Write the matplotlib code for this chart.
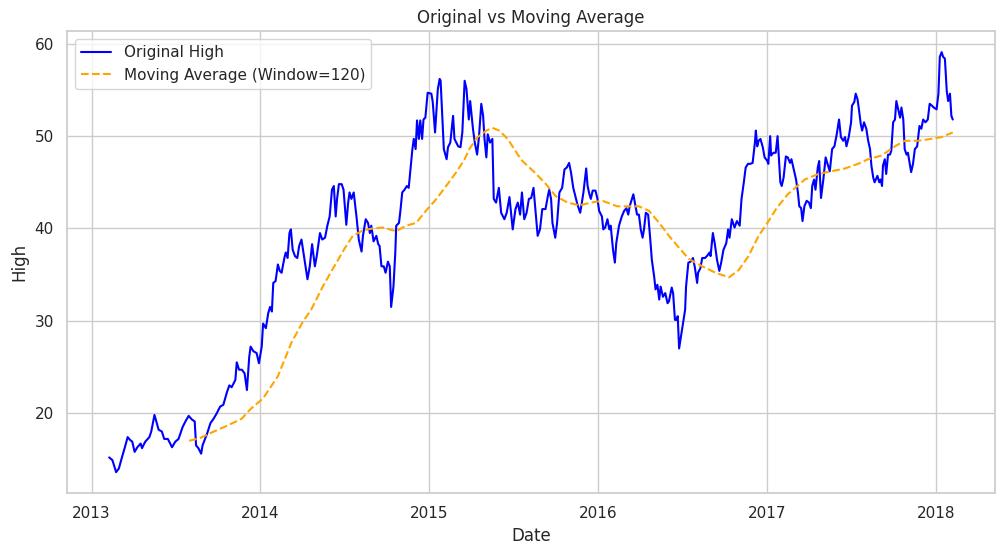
import matplotlib
matplotlib.use("Agg")
import matplotlib.pyplot as plt
import seaborn as sns
import pandas as pd

# daily High (approximate points)
high_dates = [
    "2013-02-08", "2013-02-15", "2013-02-23", "2013-03-01", "2013-03-07", "2013-03-14", "2013-03-20",
    "2013-03-25", "2013-03-30", "2013-04-04", "2013-04-10", "2013-04-17", "2013-04-20", "2013-04-27",
    "2013-05-06", "2013-05-10", "2013-05-17", "2013-05-21", "2013-05-26", "2013-06-02", "2013-06-07",
    "2013-06-15", "2013-06-24", "2013-07-01", "2013-07-08", "2013-07-17", "2013-07-23", "2013-07-30",
    "2013-08-06", "2013-08-12", "2013-08-15", "2013-08-20", "2013-08-26", "2013-08-29", "2013-09-08",
    "2013-09-15", "2013-09-22", "2013-09-29", "2013-10-06", "2013-10-13", "2013-10-21", "2013-10-26",
    "2013-10-31", "2013-11-08", "2013-11-11", "2013-11-16", "2013-11-22", "2013-11-28", "2013-12-03",
    "2013-12-08", "2013-12-11", "2013-12-17", "2013-12-24", "2013-12-29",
    "2014-01-04", "2014-01-07", "2014-01-13", "2014-01-18", "2014-01-22", "2014-01-26", "2014-01-29",
    "2014-02-03", "2014-02-08", "2014-02-12", "2014-02-16", "2014-02-22", "2014-02-25", "2014-03-01",
    "2014-03-05", "2014-03-08", "2014-03-12", "2014-03-17", "2014-03-22", "2014-03-26", "2014-03-31",
    "2014-04-04", "2014-04-09", "2014-04-13", "2014-04-18", "2014-04-23", "2014-04-29", "2014-05-03",
    "2014-05-10", "2014-05-15", "2014-05-21", "2014-05-26", "2014-05-31", "2014-06-05", "2014-06-09",
    "2014-06-13", "2014-06-16", "2014-06-20", "2014-06-26", "2014-06-30", "2014-07-06", "2014-07-10",
    "2014-07-13", "2014-07-17", "2014-07-22", "2014-07-28", "2014-08-02", "2014-08-08", "2014-08-11",
    "2014-08-17", "2014-08-22", "2014-08-26", "2014-08-29", "2014-09-03", "2014-09-09", "2014-09-13",
    "2014-09-16", "2014-09-20", "2014-09-25", "2014-09-29", "2014-10-04", "2014-10-08", "2014-10-11",
    "2014-10-16", "2014-10-20", "2014-10-22", "2014-10-28", "2014-10-31", "2014-11-04", "2014-11-09",
    "2014-11-14", "2014-11-18", "2014-11-26", "2014-11-29", "2014-12-03", "2014-12-06", "2014-12-10",
    "2014-12-13", "2014-12-17", "2014-12-20", "2014-12-24", "2014-12-29",
    "2015-01-06", "2015-01-09", "2015-01-14", "2015-01-20", "2015-01-24", "2015-01-26", "2015-01-30",
    "2015-02-02", "2015-02-08", "2015-02-11", "2015-02-16", "2015-02-22", "2015-02-25", "2015-03-05",
    "2015-03-10", "2015-03-14", "2015-03-19", "2015-03-23", "2015-03-28", "2015-03-31", "2015-04-06",
    "2015-04-10", "2015-04-15", "2015-04-19", "2015-04-24", "2015-04-28", "2015-05-01", "2015-05-05",
    "2015-05-08", "2015-05-13", "2015-05-18", "2015-05-21", "2015-05-26", "2015-06-01", "2015-06-06",
    "2015-06-13", "2015-06-18", "2015-06-24", "2015-06-30", "2015-07-01", "2015-07-07", "2015-07-12",
    "2015-07-17", "2015-07-21", "2015-07-26", "2015-07-31", "2015-08-05", "2015-08-10", "2015-08-15",
    "2015-08-19", "2015-08-24", "2015-08-29", "2015-09-03", "2015-09-10", "2015-09-15", "2015-09-18",
    "2015-09-22", "2015-09-25", "2015-10-01", "2015-10-05", "2015-10-10", "2015-10-16", "2015-10-21",
    "2015-10-26", "2015-10-31", "2015-11-04", "2015-11-09", "2015-11-15", "2015-11-18", "2015-11-24",
    "2015-11-27", "2015-12-01", "2015-12-07", "2015-12-10", "2015-12-14", "2015-12-17", "2015-12-21",
    "2015-12-27", "2015-12-31",
    "2016-01-04", "2016-01-10", "2016-01-13", "2016-01-17", "2016-01-22", "2016-01-26", "2016-01-29",
    "2016-02-03", "2016-02-07", "2016-02-10", "2016-02-16", "2016-02-22", "2016-02-27", "2016-03-03",
    "2016-03-07", "2016-03-10", "2016-03-15", "2016-03-18", "2016-03-22", "2016-03-26", "2016-03-30",
    "2016-04-03", "2016-04-07", "2016-04-10", "2016-04-14", "2016-04-19", "2016-04-23", "2016-04-27",
    "2016-05-02", "2016-05-05", "2016-05-09", "2016-05-13", "2016-05-16", "2016-05-21", "2016-05-26",
    "2016-05-31", "2016-06-03", "2016-06-09", "2016-06-12", "2016-06-16", "2016-06-19", "2016-06-22",
    "2016-06-25", "2016-06-29", "2016-07-03", "2016-07-08", "2016-07-10", "2016-07-15", "2016-07-20",
    "2016-07-25", "2016-07-29", "2016-08-03", "2016-08-05", "2016-08-10", "2016-08-14", "2016-08-20",
    "2016-08-24", "2016-08-30", "2016-09-01", "2016-09-06", "2016-09-10", "2016-09-15", "2016-09-20",
    "2016-09-24", "2016-09-29", "2016-10-05", "2016-10-09", "2016-10-12", "2016-10-17", "2016-10-23",
    "2016-10-28", "2016-11-03", "2016-11-07", "2016-11-12", "2016-11-16", "2016-11-21", "2016-11-26",
    "2016-12-01", "2016-12-06", "2016-12-08", "2016-12-11", "2016-12-14", "2016-12-18", "2016-12-23",
    "2016-12-27",
    "2017-01-02", "2017-01-04", "2017-01-08", "2017-01-10", "2017-01-15", "2017-01-20", "2017-01-24",
    "2017-01-30", "2017-02-02", "2017-02-06", "2017-02-11", "2017-02-15", "2017-02-20", "2017-02-23",
    "2017-02-27", "2017-03-05", "2017-03-09", "2017-03-12", "2017-03-16", "2017-03-19", "2017-03-23",
    "2017-03-28", "2017-04-02", "2017-04-06", "2017-04-09", "2017-04-13", "2017-04-16", "2017-04-21",
    "2017-04-24", "2017-04-28", "2017-05-03", "2017-05-08", "2017-05-12", "2017-05-17", "2017-05-22",
    "2017-05-27", "2017-06-01", "2017-06-06", "2017-06-10", "2017-06-15", "2017-06-19", "2017-06-22",
    "2017-06-27", "2017-07-02", "2017-07-04", "2017-07-09", "2017-07-12", "2017-07-16", "2017-07-19",
    "2017-07-23", "2017-07-26", "2017-07-30", "2017-08-04", "2017-08-08", "2017-08-12", "2017-08-15",
    "2017-08-19", "2017-08-22", "2017-08-28", "2017-09-01", "2017-09-04", "2017-09-07", "2017-09-09",
    "2017-09-13", "2017-09-16", "2017-09-20", "2017-09-24", "2017-09-27", "2017-10-01", "2017-10-05",
    "2017-10-08", "2017-10-12", "2017-10-16", "2017-10-19", "2017-10-23", "2017-10-26", "2017-10-30",
    "2017-11-02", "2017-11-06", "2017-11-09", "2017-11-13", "2017-11-17", "2017-11-22", "2017-11-27",
    "2017-12-01", "2017-12-05", "2017-12-10", "2017-12-15", "2017-12-19", "2017-12-24", "2017-12-28",
    "2018-01-03", "2018-01-07", "2018-01-10", "2018-01-14", "2018-01-17", "2018-01-21", "2018-01-25",
    "2018-01-28", "2018-02-01", "2018-02-04", "2018-02-07",
]
high_values = [
    15.2, 14.9, 13.6, 14.0, 15.1, 16.3, 17.4,
    17.1, 16.9, 15.8, 16.3, 16.7, 16.2, 16.9,
    17.4, 18.0, 19.8, 19.1, 18.2, 18.0, 17.2,
    17.2, 16.3, 16.9, 17.2, 18.5, 19.1, 19.7,
    19.3, 19.1, 16.5, 16.2, 15.6, 16.5, 17.8,
    18.9, 19.4, 20.0, 20.7, 20.9, 22.3, 23.0,
    22.8, 23.6, 25.5, 24.7, 24.7, 24.3, 22.5,
    26.1, 27.2, 26.7, 26.5, 25.4,
    27.2, 29.7, 29.2, 30.8, 31.5, 31.0, 34.1,
    34.3, 36.1, 35.4, 35.2, 36.8, 37.4, 36.8,
    39.5, 39.9, 37.7, 37.0, 36.8, 38.1, 38.8,
    37.5, 35.9, 34.5, 35.9, 38.3, 35.9, 37.0,
    39.5, 38.8, 39.0, 40.3, 41.3, 44.2, 44.6,
    41.3, 43.2, 44.8, 44.8, 44.2, 40.4, 42.8,
    43.9, 43.2, 43.9, 41.3, 38.8, 37.5, 39.2,
    41.0, 40.6, 39.5, 40.3, 38.6, 39.2, 38.3,
    38.1, 35.9, 35.9, 35.2, 36.4, 35.9, 31.5,
    33.7, 37.4, 40.3, 40.6, 41.9, 43.9, 44.2,
    44.6, 44.4, 48.6, 49.7, 48.6, 51.7, 49.7,
    51.7, 49.7, 51.8, 52.0, 54.7,
    54.6, 53.7, 50.4, 55.1, 56.2, 56.0, 51.8,
    48.6, 47.5, 48.8, 49.3, 52.2, 49.7, 48.9,
    48.8, 50.4, 56.0, 55.1, 51.8, 53.8, 50.8,
    49.3, 48.0, 49.9, 53.5, 52.2, 49.7, 47.7,
    50.2, 49.3, 49.7, 43.2, 42.8, 44.4, 41.7,
    41.0, 41.7, 43.4, 40.5, 39.9, 42.1, 42.8,
    41.5, 43.9, 41.0, 41.7, 43.2, 43.3, 44.4,
    42.1, 39.2, 39.9, 42.1, 42.1, 43.5, 44.2,
    43.2, 40.6, 39.0, 40.6, 43.9, 44.4, 46.4,
    46.6, 47.1, 46.1, 44.4, 43.2, 42.6, 41.7,
    42.6, 43.9, 46.5, 44.6, 43.7, 43.2, 44.1,
    44.1, 43.3,
    41.9, 41.3, 39.9, 40.1, 41.0, 39.9, 40.3,
    37.7, 36.3, 38.4, 40.3, 41.3, 41.9, 42.2,
    41.5, 42.4, 43.2, 43.7, 42.6, 41.5, 41.5,
    39.9, 39.0, 39.9, 41.7, 41.5, 39.2, 36.6,
    34.8, 33.4, 33.9, 32.3, 33.7, 32.6, 33.0,
    31.9, 32.1, 33.6, 33.0, 30.1, 30.1, 30.5,
    27.0, 28.3, 29.6, 31.2, 33.7, 36.3, 36.4,
    36.8, 35.8, 34.1, 35.2, 35.7, 36.8, 36.8,
    37.0, 37.4, 37.0, 39.5, 38.4, 36.6, 35.4,
    36.3, 37.7, 38.4, 39.9, 39.0, 41.0, 40.1,
    40.8, 40.3, 43.2, 45.0, 46.6, 47.0, 47.0,
    47.1, 49.3, 50.6, 48.9, 49.5, 49.7, 48.8,
    47.7,
    47.3, 47.0, 50.0, 47.9, 48.2, 48.2, 50.0,
    45.0, 44.6, 45.5, 47.8, 47.7, 47.1, 47.5,
    46.6, 45.3, 43.9, 42.4, 42.2, 40.8, 42.4,
    43.0, 42.8, 42.2, 44.6, 45.3, 44.2, 46.6,
    47.3, 43.3, 45.3, 47.7, 47.0, 46.2, 48.6,
    48.9, 50.2, 51.8, 49.9, 49.5, 49.9, 48.9,
    49.9, 51.5, 53.3, 53.7, 54.6, 54.0, 52.9,
    51.3, 50.6, 51.5, 50.8, 49.5, 48.6, 46.8,
    45.5, 45.0, 45.7, 45.0, 45.3, 44.6, 46.8,
    47.5, 45.9, 48.0, 48.0, 48.4, 51.5, 51.8,
    53.8, 52.9, 52.0, 53.1, 51.8, 48.6, 48.0,
    48.2, 47.0, 46.1, 47.0, 48.6, 48.9, 51.1,
    50.8, 51.8, 51.5, 51.8, 53.5, 53.3, 53.1,
    52.9, 54.6, 58.6, 59.1, 58.6, 58.4, 54.9,
    53.8, 54.6, 52.2, 51.8,
]

# 120-day moving average
ma_dates = [
    "2013-07-31", "2013-08-24", "2013-09-18", "2013-10-24", "2013-11-22", "2013-12-10",
    "2014-01-07", "2014-02-08", "2014-03-09", "2014-04-03", "2014-04-21", "2014-05-16",
    "2014-06-10", "2014-07-02", "2014-07-20", "2014-08-11", "2014-09-01", "2014-09-23",
    "2014-10-22", "2014-11-12", "2014-12-04", "2014-12-25",
    "2015-01-17", "2015-02-07", "2015-03-01", "2015-03-19", "2015-03-29", "2015-04-16",
    "2015-05-05", "2015-05-18", "2015-06-02", "2015-06-20", "2015-07-12", "2015-07-22",
    "2015-08-17", "2015-09-11", "2015-10-02", "2015-10-28", "2015-11-22", "2015-12-17",
    "2016-01-11", "2016-02-12", "2016-03-09", "2016-03-30", "2016-04-21", "2016-05-13",
    "2016-06-03", "2016-06-25", "2016-07-16", "2016-08-14", "2016-09-12", "2016-10-11",
    "2016-11-01", "2016-11-22", "2016-12-14",
    "2017-01-02", "2017-01-22", "2017-02-15", "2017-03-24", "2017-04-22", "2017-05-21",
    "2017-06-19", "2017-07-17", "2017-08-08", "2017-09-06", "2017-10-05", "2017-10-26",
    "2017-11-24", "2017-12-22", "2018-01-14", "2018-02-07",
]
ma_values = [
    17.0, 17.3, 17.9, 18.7, 19.4, 20.4,
    21.6, 24.0, 27.6, 29.9, 31.2, 33.7,
    35.9, 37.8, 39.2, 39.8, 40.0, 40.1,
    39.7, 40.3, 40.6, 41.9,
    43.2, 44.6, 46.1, 47.5, 48.6, 49.9,
    50.6, 50.9, 50.6, 49.7, 48.0, 47.3,
    46.1, 44.8, 43.5, 42.8, 42.5, 42.8,
    43.0, 42.4, 42.4, 42.4, 41.9, 40.6,
    39.2, 37.9, 36.7, 35.9, 35.2, 34.7,
    35.5, 37.0, 39.2,
    40.6, 42.2, 43.7, 45.3, 45.9, 46.2,
    46.5, 47.0, 47.5, 47.9, 48.9, 49.5,
    49.5, 49.7, 49.9, 50.4,
]

high = pd.Series(high_values, index=pd.to_datetime(high_dates))
ma = pd.Series(ma_values, index=pd.to_datetime(ma_dates))

sns.set_theme(style="whitegrid")

fig, ax = plt.subplots(figsize=(10.06, 5.56), dpi=100)
fig.subplots_adjust(left=0.0666, right=0.989, bottom=0.113, top=0.944)

ax.plot(high.index, high.values, color="blue", label="Original High")
ax.plot(ma.index, ma.values, color="orange", linestyle="--", label="Moving Average (Window=120)")

ax.set_title("Original vs Moving Average")
ax.set_xlabel("Date")
ax.set_ylabel("High")
ax.legend(loc="upper left")

plt.savefig("out.png", dpi=100)
